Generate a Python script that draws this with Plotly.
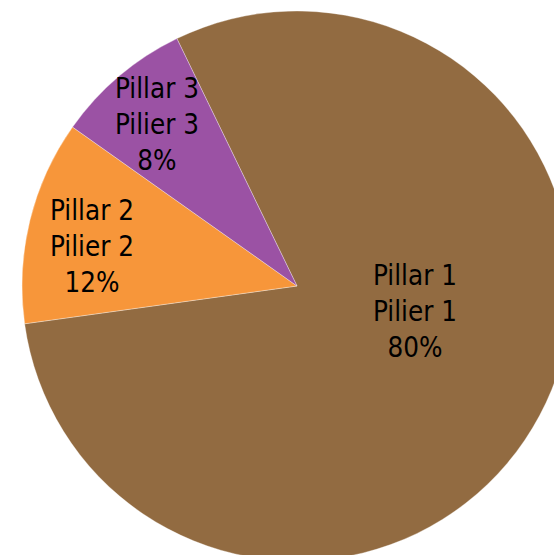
import plotly.graph_objects as go

# Pension pillar shares (percent)
labels_en = ["Pillar 1", "Pillar 2", "Pillar 3"]
labels_fr = ["Pilier 1", "Pilier 2", "Pilier 3"]
shares = [80, 12, 8]
colors = ["#926b41", "#f7963a", "#9b52a4"]

# Canvas is larger than the viewport so the pie runs off the right/bottom edges
W, H = 594, 572

# Label centres in pixels from the top-left of the canvas
label_px = [(415, 311), (92, 246), (157, 124)]

fig = go.Figure(
    go.Pie(
        labels=labels_en,
        values=shares,
        sort=False,
        direction="clockwise",
        rotation=-25.9,
        marker=dict(colors=colors, line=dict(color="rgba(255,255,255,0.55)", width=0.6)),
        textinfo="none",
        hoverinfo="skip",
        domain=dict(x=[22 / W, 572 / W], y=[11 / H, 561 / H]),
    )
)

for en, fr, v, (px, py) in zip(labels_en, labels_fr, shares, label_px):
    fig.add_annotation(
        text=f"{en}<br>{fr}<br>{v}%",
        x=px / W,
        y=1 - py / H,
        xref="paper",
        yref="paper",
        xanchor="center",
        yanchor="middle",
        showarrow=False,
        align="center",
        font=dict(family="DejaVu Sans Condensed, sans-serif", size=27.5, color="black"),
    )

fig.update_layout(
    width=W,
    height=H,
    margin=dict(l=0, r=0, t=0, b=0),
    showlegend=False,
    paper_bgcolor="white",
    plot_bgcolor="white",
)

fig.write_html(
    "out.html",
    post_script="document.documentElement.style.overflow='hidden';document.body.style.overflow='hidden';document.body.style.margin='0';",
)
